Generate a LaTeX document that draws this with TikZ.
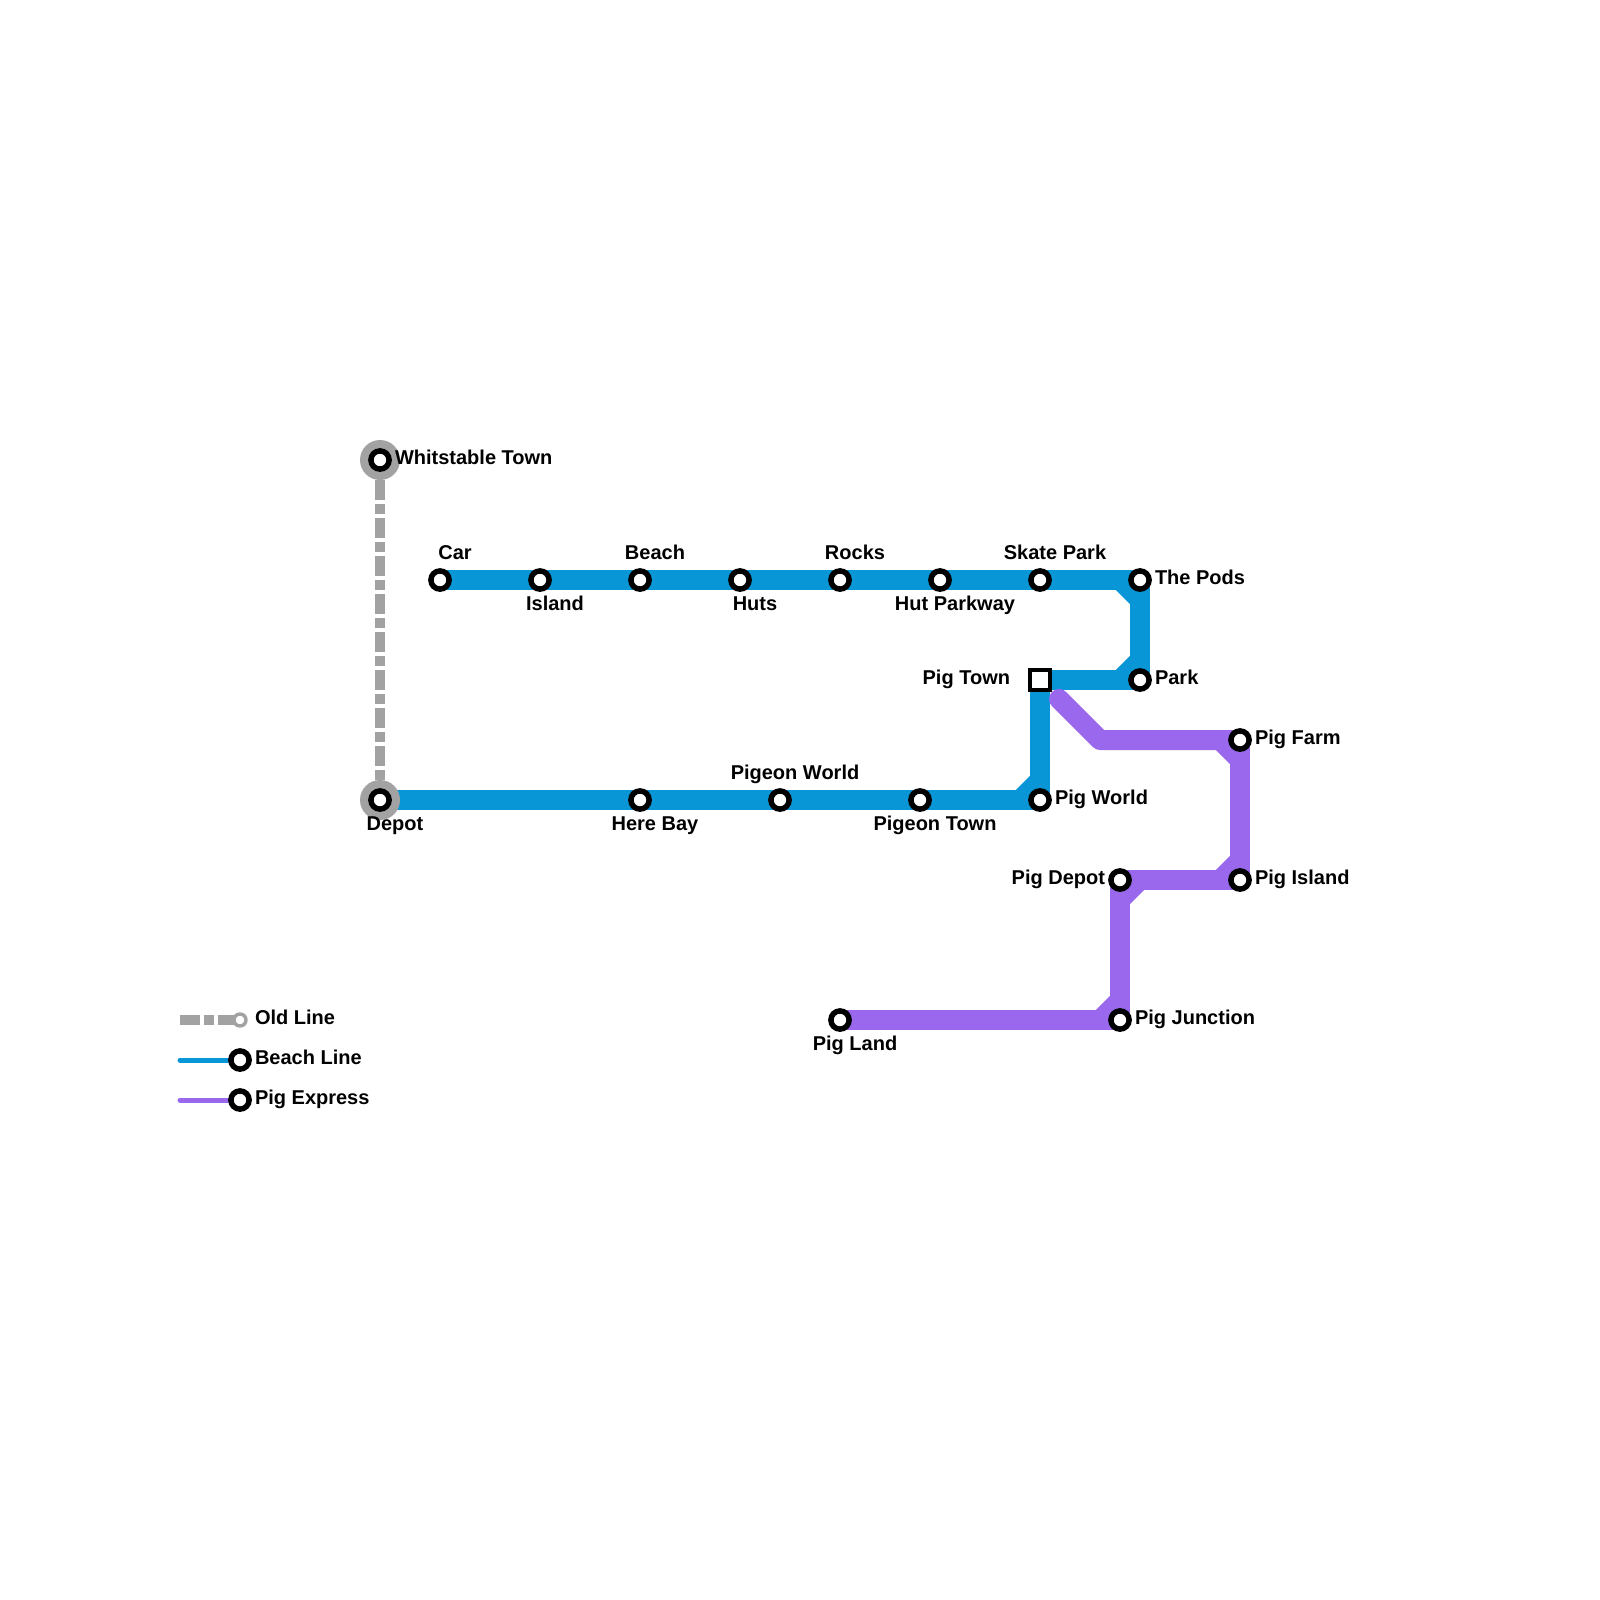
\documentclass[tikz,border=0pt]{standalone}
\usepackage{fontspec}
\setmainfont{Liberation Sans}
\pgfdeclarelayer{lines}
\pgfsetlayers{lines,main}
\definecolor{beachc}{HTML}{0896D7}
\definecolor{pigc}{HTML}{9A68EC}
\definecolor{oldc}{HTML}{A2A2A2}
\tikzset{
  stn/.style={circle,draw=black,fill=white,line width=5.5pt,minimum size=18.2pt,inner sep=0pt,outer sep=0pt},
  halo/.style={circle,fill=oldc,minimum size=40pt,inner sep=0pt,outer sep=0pt},
  hub/.style={rectangle,draw=black,fill=white,line width=4pt,minimum size=20pt,inner sep=0pt,outer sep=0pt},
  oldstn/.style={circle,draw=oldc,fill=white,line width=3.4pt,minimum size=12pt,inner sep=0pt,outer sep=0pt},
  lab/.style={font=\bfseries\fontsize{20pt}{24pt}\selectfont,text=black,inner sep=0pt,outer sep=0pt},
  rlab/.style={lab,anchor=base west,yshift=-0.7pt},
  clab/.style={lab,anchor=base,yshift=-0.7pt},
  llab/.style={lab,anchor=base east,yshift=-0.7pt},
  beachl/.style={draw=beachc,line width=20pt,line join=round},
  pigl/.style={draw=pigc,line width=20pt,line join=round},
  oldl/.style={draw=oldc,line width=10pt,dash pattern=on 20pt off 4pt on 10pt off 4pt},
  keyl/.style={line width=5pt,line cap=round}
}
\begin{document}
\begin{tikzpicture}[x=1pt,y=-1pt]
\useasboundingbox (0,0) rectangle (1600,1600);
% halos
\node[halo] (hw) at (380,460) {};
\node[halo] (hd) at (380,800) {};
% stations
\node[stn] (whit) at (380,460) {};
\node[stn] (depot) at (380,800) {};
\node[stn] (car) at (440,580) {};
\node[stn] (island) at (540,580) {};
\node[stn] (beach) at (640,580) {};
\node[stn] (huts) at (740,580) {};
\node[stn] (rocks) at (840,580) {};
\node[stn] (hutp) at (940,580) {};
\node[stn] (skate) at (1040,580) {};
\node[stn] (pods) at (1140,580) {};
\node[stn] (park) at (1140,680) {};
\node[hub] (pigtown) at (1040,680) {};
\node[stn] (pigworld) at (1040,800) {};
\node[stn] (herebay) at (640,800) {};
\node[stn] (pigeonw) at (780,800) {};
\node[stn] (pigeont) at (920,800) {};
\node[stn] (pigfarm) at (1240,740) {};
\node[stn] (pigisland) at (1240,880) {};
\node[stn] (pigdepot) at (1120,880) {};
\node[stn] (pigjunc) at (1120,1020) {};
\node[stn] (pigland) at (840,1020) {};
% free points of the lines
\coordinate (pigstart) at (1059,699);
\coordinate (pigbend) at (1100,740);
\coordinate (k1a) at (180,1020);
\coordinate (k2a) at (180,1060);
\coordinate (k3a) at (180,1100);
\node[oldstn] (k1) at (240,1020) {};
\node[stn] (k2) at (240,1060) {};
\node[stn] (k3) at (240,1100) {};
% lines
\begin{pgfonlayer}{lines}
\fill[white] (0,0) rectangle (1600,1600);
\draw[oldl,dash phase=18pt] (whit.center) -- (depot.center);
\draw[beachl] (car.center) -- (pods.center) -- (park.center) -- (pigtown.center) -- (pigworld.center) -- (depot.center);
\draw[beachl] (1120,580) -- (1140,600);
\draw[beachl] (1140,660) -- (1120,680);
\draw[beachl] (1040,780) -- (1020,800);
\draw[pigl,line cap=round] (pigstart) -- (pigbend) -- (1220,740);
\draw[pigl] (pigbend) -- (pigfarm.center) -- (pigisland.center) -- (pigdepot.center) -- (pigjunc.center) -- (pigland.center);
\draw[pigl] (1220,740) -- (1240,760);
\draw[pigl] (1240,860) -- (1220,880);
\draw[pigl] (1120,900) -- (1140,880);
\draw[pigl] (1120,1000) -- (1100,1020);
\draw[oldl] (k1a) -- (k1.center);
\draw[keyl,draw=beachc] (k2a) -- (k2.center);
\draw[keyl,draw=pigc] (k3a) -- (k3.center);
\end{pgfonlayer}
% labels
\node[rlab] (t1) at (395,464) {Whitstable Town};
\node[clab] (t2) at (455,559) {Car};
\node[clab] (t3) at (555,610) {Island};
\node[clab] (t4) at (655,559) {Beach};
\node[clab] (t5) at (755,610) {Huts};
\node[clab] (t6) at (855,559) {Rocks};
\node[clab] (t7) at (955,610) {Hut Parkway};
\node[clab] (t8) at (1055,559) {Skate Park};
\node[rlab] (t9) at (1155,584) {The Pods};
\node[rlab] (t10) at (1155,684) {Park};
\node[llab] (t11) at (1010,684) {Pig Town};
\node[rlab] (t12) at (1055,804) {Pig World};
\node[clab] (t13) at (795,779) {Pigeon World};
\node[clab] (t14) at (935,830) {Pigeon Town};
\node[clab] (t15) at (655,830) {Here Bay};
\node[clab] (t16) at (395,830) {Depot};
\node[rlab] (t17) at (1255,744) {Pig Farm};
\node[rlab] (t18) at (1255,884) {Pig Island};
\node[llab] (t19) at (1105,884) {Pig Depot};
\node[rlab] (t20) at (1135,1024) {Pig Junction};
\node[clab] (t21) at (855,1050) {Pig Land};
\node[rlab] (t22) at (255,1024) {Old Line};
\node[rlab] (t23) at (255,1064) {Beach Line};
\node[rlab] (t24) at (255,1104) {Pig Express};
\end{tikzpicture}
\end{document}
